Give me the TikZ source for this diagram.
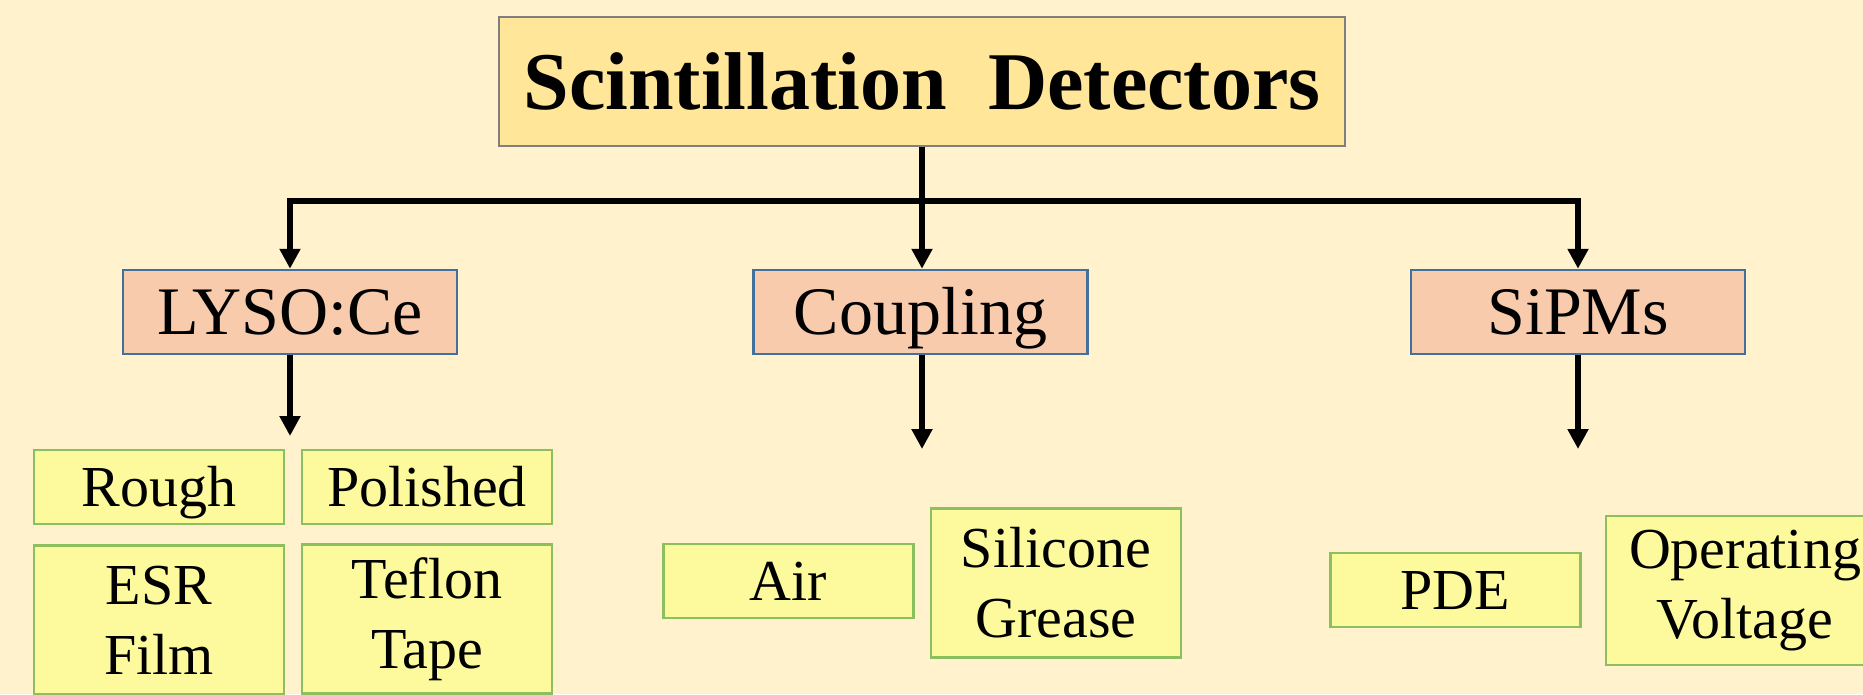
\documentclass[tikz,border=0pt]{standalone}
\usepackage{fontspec}
\setmainfont{Liberation Serif}
\usetikzlibrary{arrows.meta}
\definecolor{fondo}{HTML}{FFF2CC}
\definecolor{tituloFill}{HTML}{FFE699}
\definecolor{tituloLinea}{HTML}{7F7F7F}
\definecolor{grupoFill}{HTML}{F8CBAD}
\definecolor{grupoLinea}{HTML}{41719C}
\definecolor{hojaFill}{HTML}{FCFA9C}
\definecolor{hojaLinea}{HTML}{8CBF5E}
\begin{document}
\begin{tikzpicture}[x=1pt, y=1pt,
        every node/.style={draw, align=center, inner sep=0pt, line width=2.5pt},
        titulo/.style={fill=tituloFill, draw=tituloLinea, minimum width=846pt, minimum height=129pt, font=\fontsize{82}{96}\selectfont\bfseries},
        grupo/.style={fill=grupoFill, draw=grupoLinea, minimum width=334pt, minimum height=84pt, font=\fontsize{68}{80}\selectfont, text height=47pt, text depth=2pt},
        hoja/.style={fill=hojaFill, draw=hojaLinea, minimum width=250pt, font=\fontsize{58}{70}\selectfont},
        corta/.style={hoja, minimum height=74pt, text height=39pt, text depth=1pt},
        alta/.style={hoja, minimum height=149pt},
        flecha/.style={-{Triangle[width=20pt,length=20pt]}, line width=6pt}
    ]
    \useasboundingbox (0,0) rectangle (1863,-694);
    \fill[fondo] (0,0) rectangle (1863,-694);

    \node[titulo] (T) at (922,-81.5) {Scintillation\ \ Detectors};

    \node[grupo] (L) at (290,-312) {LYSO:Ce};
    \node[grupo] (C) at (920.5,-312) {Coupling};
    \node[grupo] (S) at (1578,-312) {SiPMs};

    \node[corta] (Ro) at (159,-487) {Rough};
    \node[corta] (Po) at (427,-487) {Polished};
    \node[alta] (Es) at (159,-620) {ESR\\Film};
    \node[alta] (Te) at (427,-619) {Teflon\\Tape};
    \node[corta] (Ai) at (788.5,-581) {Air};
    \node[alta] (Si) at (1056,-583) {Silicone\\Grease};
    \node[corta] (Pd) at (1455.5,-590) {PDE};
    \node[alta, minimum width=278pt] (Op) at (1745,-590.5) {Operating\\Voltage};

    \coordinate (Lfin) at (290,-436);
    \coordinate (Cfin) at (922,-449);
    \coordinate (Sfin) at (1578,-449);

    \draw[flecha] (T.south) -- ++(0,-54) -| (L.north);
    \draw[flecha] (T.south) -- (T.south |- C.north);
    \draw[flecha] (T.south) -- ++(0,-54) -| (S.north);
    \draw[flecha] (L.south) -- (Lfin);
    \draw[flecha] (C.south -| Cfin) -- (Cfin);
    \draw[flecha] (S.south) -- (Sfin);
\end{tikzpicture}
\end{document}
